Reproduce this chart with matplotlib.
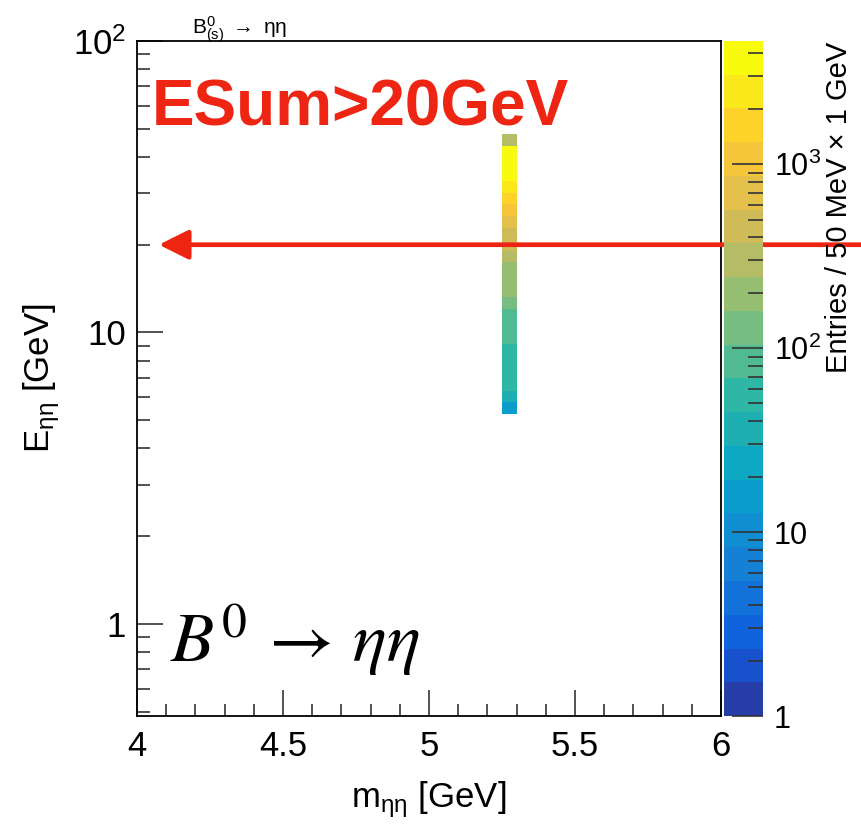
import numpy as np
import matplotlib
matplotlib.use("Agg")
import matplotlib.pyplot as plt
from matplotlib.colors import LinearSegmentedColormap, ListedColormap, LogNorm
from matplotlib.ticker import FixedLocator, NullFormatter

plt.rcParams['font.family'] = ['Liberation Sans', 'DejaVu Sans']
plt.rcParams['mathtext.fontset'] = 'custom'
plt.rcParams['mathtext.rm'] = 'Liberation Sans'
plt.rcParams['mathtext.it'] = 'Liberation Sans:italic'

# mass bin (GeV) and log-spaced energy bins (0.04 decades each)
m_edges = [5.25, 5.30]
e_bin_index = np.arange(18, 43)          # edges at 10^(0.04*k)
counts = [15, 37, 50, 55, 60, 65, 75, 85, 97, 130, 175, 200,
          230, 300, 420, 520, 700, 1000, 1600, 2500, 3400, 4200, 3800, 300]
z_max = 4670
esum_cut = 20.0

# ROOT kBird palette, 20 contour levels
stops = [0.0, 0.125, 0.25, 0.375, 0.5, 0.625, 0.75, 0.875, 1.0]
red = [0.2082, 0.0592, 0.0780, 0.0232, 0.1802, 0.5301, 0.8186, 0.9956, 0.9764]
green = [0.1664, 0.3599, 0.5041, 0.6419, 0.7178, 0.7492, 0.7328, 0.7862, 0.9832]
blue = [0.5293, 0.8684, 0.8385, 0.7914, 0.6425, 0.4662, 0.3499, 0.1968, 0.0539]
bird = LinearSegmentedColormap.from_list(
    "bird", list(zip(stops, zip(red, green, blue))))
ncont = 20
cmap = ListedColormap([bird(min((i + 0.99) / ncont, 1.0)) for i in range(ncont)])

e_edges = 10 ** (0.04 * e_bin_index)
z = np.array(counts, dtype=float).reshape(-1, 1)

fig = plt.figure(figsize=(8.61, 8.30), dpi=100)
ax = fig.add_axes([137 / 861, 1 - 716 / 830, 584 / 861, 675 / 830])
cax = fig.add_axes([724 / 861, 1 - 716 / 830, 39 / 861, 675 / 830])

mesh = ax.pcolormesh(m_edges, e_edges, z, cmap=cmap,
                     norm=LogNorm(vmin=1, vmax=z_max))

ax.set_xlim(4, 6)
ax.set_yscale('log')
ax.set_ylim(0.483, 100)

red_col = '#ee2513'
# E_sum threshold arrow, running off the right edge of the canvas
ax.annotate('', xy=(4.075, esum_cut), xytext=(6.5, esum_cut),
            xycoords='data', textcoords='data', annotation_clip=False,
            arrowprops=dict(arrowstyle='-|>,head_length=0.9,head_width=0.45',
                            color=red_col, lw=3.4, mutation_scale=20,
                            shrinkA=0, shrinkB=0), zorder=5)

# x ticks
ax.xaxis.set_major_locator(FixedLocator([4, 4.5, 5, 5.5, 6]))
ax.xaxis.set_minor_locator(FixedLocator(np.arange(4, 6.001, 0.1)))
ax.set_xticklabels(['4', '4.5', '5', '5.5', '6'])
# y ticks
ax.yaxis.set_major_locator(FixedLocator([1, 10, 100]))
ax.set_yticklabels(['1', '10', r'$\mathregular{10^{2}}$'])
ymin_ticks = [d * m for d in (0.1, 1, 10) for m in range(2, 10)]
ax.yaxis.set_minor_locator(FixedLocator(ymin_ticks))
ax.yaxis.set_minor_formatter(NullFormatter())

ax.tick_params(which='both', direction='in', top=False, right=False,
               labelsize=25, width=1.2, color='#333333')
ax.tick_params(which='major', length=19)
ax.tick_params(which='minor', length=9)
ax.tick_params(axis='x', which='major', pad=10)
ax.tick_params(axis='y', which='major', pad=8)
for s in ax.spines.values():
    s.set_linewidth(1.3)

ax.set_xlabel(r'm$_{\mathregular{\eta\eta}}$ [GeV]', fontsize=25, labelpad=12)
ax.set_ylabel(r'E$_{\mathregular{\eta\eta}}$ [GeV]', fontsize=25, labelpad=8)

# colour scale
cb = fig.colorbar(mesh, cax=cax)
cb.outline.set_visible(False)
cb.set_ticks([1, 10, 100, 1000])
cb.set_ticklabels(['1', '10', r'$\mathregular{10^{2}}$', r'$\mathregular{10^{3}}$'])
cb_minor = [d * m for d in (1, 10, 100, 1000) for m in range(2, 10) if d * m < z_max]
cax.yaxis.set_minor_locator(FixedLocator(cb_minor))
cax.yaxis.set_minor_formatter(NullFormatter())
cax.tick_params(which='both', direction='in', labelsize=22, width=1.2,
                color='#333333')
cax.tick_params(which='major', length=22, pad=8)
cax.tick_params(which='minor', length=11)
fig.text(0.975, 1 - 42 / 830, u'Entries / 50 MeV \u00d7 1 GeV', rotation=90,
         ha='center', va='top', fontsize=21)

# labels on the canvas
fig.text(192 / 861, 1 - 34 / 830,
         r'B$^{\mathregular{0}}_{\mathregular{(s)}}$ $\rightarrow$ ηη',
         fontsize=15, ha='left', va='baseline')
fig.text(152 / 861, 1 - 126 / 830, 'ESum>20GeV', color=red_col,
         fontsize=46, fontweight='bold', ha='left', va='baseline')
ax.text(170 / 861, 1 - 662 / 830, r'$B^{0}\,\rightarrow\,\eta\eta$',
        transform=fig.transFigure, fontsize=51, ha='left', va='baseline',
        math_fontfamily='stix')

fig.savefig('out.png', dpi=100)
